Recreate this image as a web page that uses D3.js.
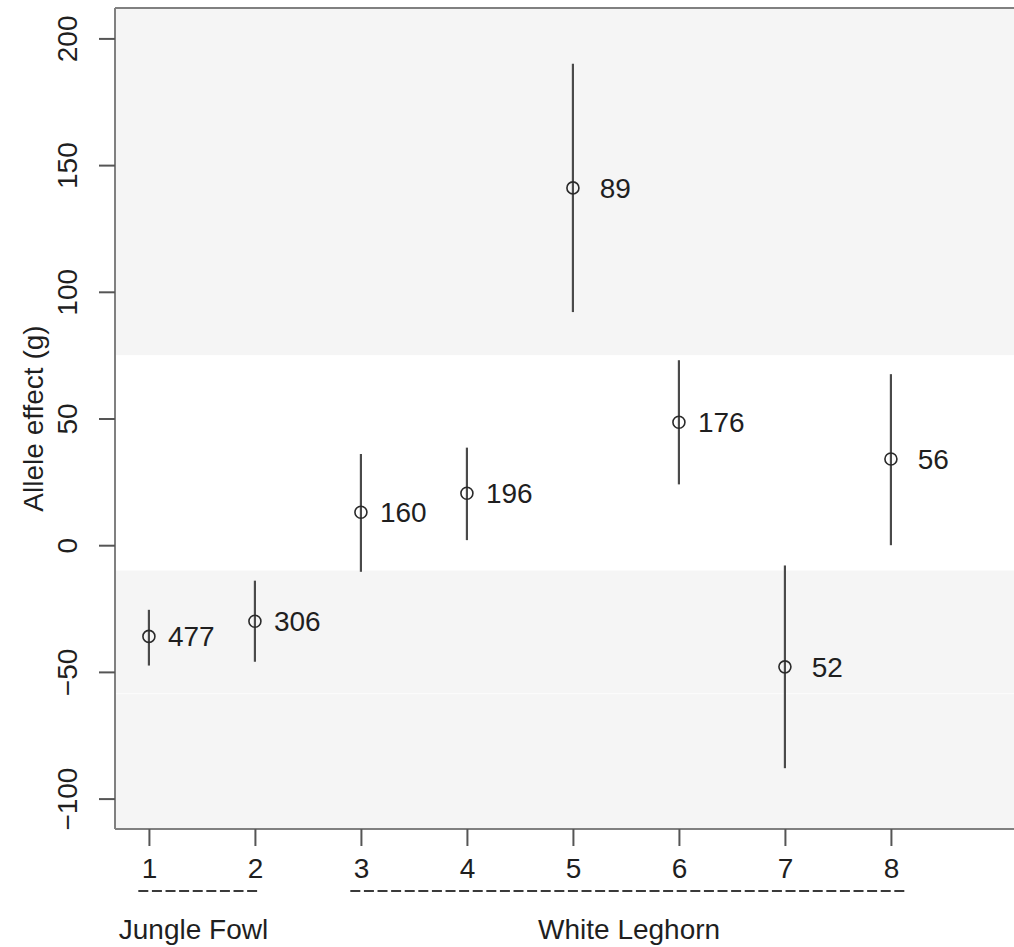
<!DOCTYPE html>
<html>
<head>
<meta charset="utf-8">
<script src="https://cdn.jsdelivr.net/npm/d3@7"></script>
<style>
  body { margin: 0; background: #fff; }
  text { font-family: 'Liberation Sans', Arial, sans-serif; fill: #1f1f1f; }
</style>
</head>
<body>
<div id="chart"></div>
<script>
// Data
const groups = [1, 2, 3, 4, 5, 6, 7, 8];
const effect = [-36, -30, 13, 20.5, 141, 48.5, -48, 34];
const lower = [-47.5, -46, -10.5, 2, 92, 24, -88, 0];
const upper = [-25.5, -14, 36, 38.5, 190, 73, -8, 67.5];
const counts = ['477', '306', '160', '196', '89', '176', '52', '56'];
const yTicks = [-100, -50, 0, 50, 100, 150, 200];

// shaded bands (value ranges)
const bandFrom = [75, -112];
const bandTo = [212, -10];

// breed groups under the axis
const breedNames = ['Jungle Fowl', 'White Leghorn'];
const breedFrom = [0.9, 2.9];
const breedTo = [2.05, 8.13];
const breedLabelAt = [1.42, 5.53];

const width = 1014;
const height = 947;
const plotLeft = 115;
const plotTop = 8;
const plotBottom = 829;
const fontSize = '28px';

const svg = d3.select('#chart')
  .append('svg')
  .attr('width', width)
  .attr('height', height);

const x = d3.scaleLinear().domain([0.68, 9.32]).range([plotLeft, plotLeft + 106 * 8.64]);
const y = d3.scaleLinear().domain([-112, 212]).range([plotBottom, plotTop]);

// Background bands
svg.selectAll('rect.band')
  .data(bandFrom.map((f, i) => ({ from: f, to: bandTo[i] })))
  .enter()
  .append('rect')
  .attr('class', 'band')
  .attr('x', plotLeft)
  .attr('y', (d) => y(d.to))
  .attr('width', width - plotLeft)
  .attr('height', (d) => y(d.from) - y(d.to))
  .attr('fill', '#f5f5f5');

// faint seam inside lower band
svg.append('line')
  .attr('x1', plotLeft).attr('x2', width)
  .attr('y1', y(-58.6)).attr('y2', y(-58.6))
  .attr('stroke', '#fcfcfc')
  .attr('stroke-width', 1);

// Frame: top border
svg.append('line')
  .attr('x1', plotLeft).attr('x2', width)
  .attr('y1', plotTop).attr('y2', plotTop)
  .attr('stroke', '#808080').attr('stroke-width', 2);

// Y axis
const yAxis = svg.append('g')
  .attr('transform', `translate(${plotLeft},0)`)
  .call(d3.axisLeft(y).tickValues(yTicks).tickSize(16).tickSizeOuter(0).tickFormat((d) => (d < 0 ? `\u2212${-d}` : d)));
yAxis.select('.domain').attr('stroke', '#808080').attr('stroke-width', 2)
  .attr('d', `M0,${plotTop}V${plotBottom}`);
yAxis.selectAll('.tick line').attr('stroke', '#555').attr('stroke-width', 2);
yAxis.selectAll('.tick text')
  .attr('x', 0).attr('dy', 0)
  .attr('transform', 'translate(-38,0) rotate(-90)')
  .attr('text-anchor', 'middle')
  .style('font-size', fontSize)
  .style('font-family', "'Liberation Sans', Arial, sans-serif")
  .attr('fill', '#1f1f1f');

// X axis
const xAxis = svg.append('g')
  .attr('transform', `translate(0,${plotBottom})`)
  .call(d3.axisBottom(x).tickValues(groups).tickSize(17).tickSizeOuter(0).tickFormat(d3.format('d')));
xAxis.select('.domain').attr('stroke', '#808080').attr('stroke-width', 2)
  .attr('d', `M${plotLeft},0H${width}`);
xAxis.selectAll('.tick line').attr('stroke', '#555').attr('stroke-width', 2);
xAxis.selectAll('.tick text')
  .attr('y', 49).attr('dy', 0)
  .style('font-size', fontSize)
  .style('font-family', "'Liberation Sans', Arial, sans-serif")
  .attr('fill', '#1f1f1f');

// Y axis title
svg.append('text')
  .attr('transform', `translate(43,${(plotTop + plotBottom) / 2}) rotate(-90)`)
  .attr('text-anchor', 'middle')
  .style('font-size', fontSize)
  .text('Allele effect (g)');

// Breed group markers
breedNames.forEach((name, i) => {
  svg.append('line')
    .attr('x1', x(breedFrom[i])).attr('x2', x(breedTo[i]))
    .attr('y1', 891).attr('y2', 891)
    .attr('stroke', '#3a3a3a')
    .attr('stroke-width', 2)
    .attr('stroke-dasharray', '10,3.6');
  svg.append('text')
    .attr('x', x(breedLabelAt[i]))
    .attr('y', 939)
    .attr('text-anchor', 'middle')
    .style('font-size', fontSize)
    .text(name);
});

const data = groups.map((g, i) => ({
  g, v: effect[i], lo: lower[i], hi: upper[i], n: counts[i],
}));

// Error bars
svg.selectAll('line.err')
  .data(data).enter()
  .append('line')
  .attr('class', 'err')
  .attr('x1', (d) => x(d.g)).attr('x2', (d) => x(d.g))
  .attr('y1', (d) => y(d.hi)).attr('y2', (d) => y(d.lo))
  .attr('stroke', '#4a4a4a')
  .attr('stroke-width', 2.2);

// Points
svg.selectAll('circle')
  .data(data).enter()
  .append('circle')
  .attr('cx', (d) => x(d.g))
  .attr('cy', (d) => y(d.v))
  .attr('r', 6)
  .attr('fill', 'none')
  .attr('stroke', '#2a2a2a')
  .attr('stroke-width', 1.6);

// Count labels
svg.selectAll('text.count')
  .data(data).enter()
  .append('text')
  .attr('class', 'count')
  .attr('x', (d) => x(d.g + 0.4))
  .attr('y', (d) => y(d.v))
  .attr('dy', '0.36em')
  .attr('text-anchor', 'middle')
  .style('font-size', fontSize)
  .text((d) => d.n);
</script>
</body>
</html>
